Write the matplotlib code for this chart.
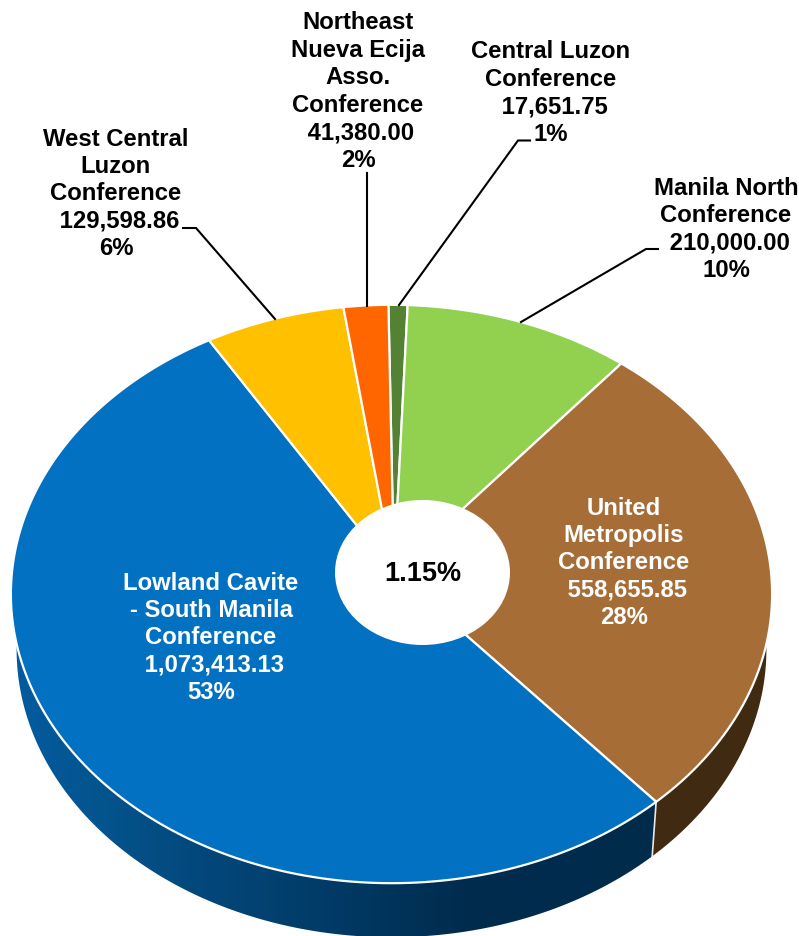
import numpy as np
import matplotlib
matplotlib.use("Agg")
import matplotlib.pyplot as plt
from matplotlib.colors import LinearSegmentedColormap
from matplotlib.patches import Ellipse, Polygon

names = ["Central Luzon\nConference", "Manila North\nConference",
         "United\nMetropolis\nConference", "Lowland Cavite\n- South Manila\nConference",
         "West Central\nLuzon\nConference", "Northeast\nNueva Ecija\nAsso.\nConference"]
values = [17651.75, 210000.00, 558655.85, 1073413.13, 129598.86, 41380.00]
colors = ["#548235", "#92d050", "#a66d37", "#0371c2", "#ffc000", "#ff6600"]
text_colors = ["black", "black", "white", "white", "black", "black"]
center_label = "1.15%"

W, H = 799, 937
plt.rcParams["font.family"] = ["Liberation Sans", "DejaVu Sans"]
fig = plt.figure(figsize=(W / 100, H / 100), dpi=100)
ax = fig.add_axes([0, 0, 1, 1])
ax.set_xlim(0, W)
ax.set_ylim(H, 0)
ax.axis("off")

# perspective disc: unit circle -> rim of the tilted pie
RIM_CX, HUB = 391.5, (394.0, 573.0)
SX, SY, K = 379.5, 287.5, 0.0761
START = -0.5
DEPTH = 55.5
BOT_SCALE = 0.985


def rim(phi_deg, cx=RIM_CX, cy=573.0, sx=SX, sy=SY):
    p = np.radians(phi_deg)
    u, v = np.sin(p), np.cos(p)
    den = 1 + K * v
    return cx + sx * u / den, cy - sy * v / den


def bottom(phi_deg):
    x, y = rim(phi_deg)
    return RIM_CX + (x - RIM_CX) * BOT_SCALE, 595 + (y - 595) * 0.995 + DEPTH


fractions = np.array(values) / np.sum(values)
edges = START + 360 * np.concatenate([[0], np.cumsum(fractions)])

# side wall
i_brown, i_blue = 2, 3
a_div = edges[i_blue]
a_left = 270.0
a_right = 90.0

phi_blue = np.linspace(a_div, a_left, 200)
bx, by = bottom(phi_blue)
tx, ty = rim(phi_blue[::-1])
wall_blue = Polygon(np.column_stack([np.r_[bx, tx], np.r_[by, ty]]), closed=True,
                    transform=ax.transData, fc="none", ec="none")
ax.add_patch(wall_blue)
wall_cmap = LinearSegmentedColormap.from_list(
    "wall", [(0.0, "#025ba0"), (0.12, "#04558f"), (0.3, "#03477a"),
             (0.5, "#013a66"), (0.7, "#002c4e"), (1.0, "#002b4b")])
im = ax.imshow(np.linspace(0, 1, 256).reshape(1, -1), cmap=wall_cmap, aspect="auto",
               extent=(14, 655, H, 590), zorder=1)
im.set_clip_path(wall_blue)

phi_brown = np.linspace(a_right, a_div, 150)
bx2, by2 = bottom(phi_brown)
tx2, ty2 = rim(phi_brown[::-1])
ax.add_patch(Polygon(np.column_stack([np.r_[bx2, tx2], np.r_[by2, ty2]]), closed=True,
                     fc="#402a12", ec="none", zorder=1))
dx0, dy0 = rim(a_div)
dx1, dy1 = bottom(a_div)
ax.plot([dx0, dx1], [dy0, dy1], color="#e8e8e8", lw=1.2, zorder=2)

# top face
for a0, a1, col in zip(edges[:-1], edges[1:], colors):
    ph = np.linspace(a0, a1, max(int(a1 - a0) * 2, 8))
    x, y = rim(ph)
    pts = np.column_stack([np.r_[HUB[0], x], np.r_[HUB[1], y]])
    ax.add_patch(Polygon(pts, closed=True, fc=col, ec="white", lw=1.6, zorder=3,
                         joinstyle="round"))

ax.add_patch(Ellipse((422.5, 573.5), 175, 145, fc="white", ec="none", zorder=4))
ax.text(423, 574, center_label, ha="center", va="center", fontsize=19.5,
        fontweight="bold", color="black", zorder=6)

# data labels (centre x, y of block centre)
label_pos = [(551, 93), (726, 229.5), (624, 563), (211, 638), (116, 194), (358, 91.5)]
lead_space = [" ", " ", " ", " ", " ", " "]
for name, v, fr, pos, c, sp in zip(names, values, fractions, label_pos, text_colors, lead_space):
    s = f"{name}\n{sp}{v:,.2f}\n{fr * 100:.0f}%"
    ax.text(pos[0], pos[1], s, ha="center", va="center", multialignment="center",
            fontsize=17.2, fontweight="bold", color=c, linespacing=1.245, zorder=6)

# leader lines
leaders = [
    [(530, 141.5), (518, 141.5), (399, 306)],
    [(658, 250), (646, 250), (521, 323)],
    [(183, 229), (196, 229), (275, 320)],
    [(367, 174), (367, 307)],
]
for pts in leaders:
    xs, ys = zip(*pts)
    ax.plot(xs, ys, color="black", lw=1.5, zorder=5, solid_joinstyle="miter")

ax.set_xlim(0, W)
ax.set_ylim(H, 0)
fig.savefig("out.png", dpi=100, facecolor="white")
